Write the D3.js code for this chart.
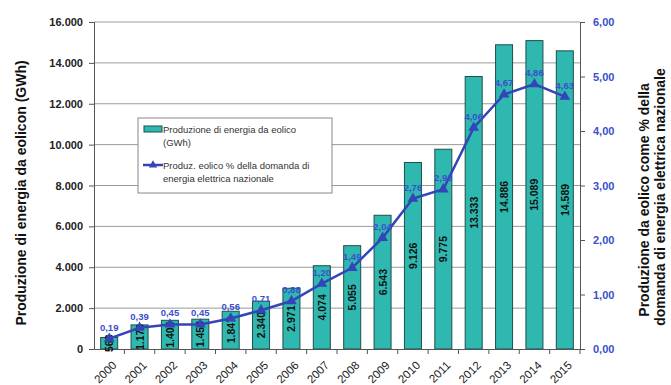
<!doctype html>
<html>
<head>
<style>
  body { margin: 0; background: #fff; font-family: "Liberation Sans", Arial, sans-serif; }
</style>
<script src="https://d3js.org/d3.v7.min.js"></script>
</head>
<body>
<svg width="671" height="385"></svg>
<script>
var years = ["2000","2001","2002","2003","2004","2005","2006","2007","2008","2009","2010","2011","2012","2013","2014","2015"];
var gwh = [563, 1179, 1404, 1458, 1847, 2340, 2971, 4074, 5055, 6543, 9126, 9775, 13333, 14886, 15089, 14589];
var pct = [0.19, 0.39, 0.45, 0.45, 0.56, 0.71, 0.88, 1.20, 1.49, 2.04, 2.76, 2.93, 4.06, 4.67, 4.86, 4.63];
var leftTicks = [0, 2000, 4000, 6000, 8000, 10000, 12000, 14000, 16000];
var rightTicks = [0, 1, 2, 3, 4, 5, 6];

var it = d3.formatLocale({decimal: ",", thousands: ".", grouping: [3], currency: ["", "€"]});
var fmtInt = it.format(",d"), fmtPct = it.format(".2f");

var svg = d3.select("svg");
var pLeft = 94, pRight = 580, pTop = 22, pBottom = 349;
var teal = "#2fb8b0", blue = "#3345b8", blueTxt = "#3a4fcc";

var x = d3.scaleBand().domain(years).range([pLeft, pRight]).paddingInner(0.44).paddingOuter(0.22);
var yL = d3.scaleLinear().domain([0, 16000]).range([pBottom, pTop]);
var yR = d3.scaleLinear().domain([0, 6]).range([pBottom, pTop]);

// gridlines
svg.append("g").selectAll("line").data(leftTicks.slice(1)).enter().append("line")
  .attr("x1", pLeft).attr("x2", pRight)
  .attr("y1", function(d){ return yL(d); }).attr("y2", function(d){ return yL(d); })
  .attr("stroke", "#9a9a9a").attr("stroke-width", 1);

// left axis
var gl = svg.append("g").attr("transform", "translate(" + pLeft + ",0)")
  .call(d3.axisLeft(yL).tickValues(leftTicks).tickFormat(fmtInt).tickSize(5).tickPadding(6));
gl.selectAll("text").attr("font-size", 11).attr("font-weight", "bold").attr("fill", "#222")
  .attr("font-family", "Liberation Sans, Arial, sans-serif");
gl.selectAll("line, path").attr("stroke", "#555");

// right axis
var gr = svg.append("g").attr("transform", "translate(" + pRight + ",0)")
  .call(d3.axisRight(yR).tickValues(rightTicks).tickFormat(fmtPct).tickSize(5).tickPadding(8));
gr.selectAll("text").attr("font-size", 11).attr("font-weight", "bold").attr("fill", blueTxt)
  .attr("font-family", "Liberation Sans, Arial, sans-serif");
gr.selectAll("line, path").attr("stroke", "#555");

// bars
var data = years.map(function(y, i){ return {year: y, v: gwh[i], p: pct[i]}; });
svg.append("g").selectAll("rect").data(data).enter().append("rect")
  .attr("x", function(d){ return x(d.year); })
  .attr("y", function(d){ return yL(d.v); })
  .attr("width", x.bandwidth())
  .attr("height", function(d){ return pBottom - yL(d.v); })
  .attr("fill", teal).attr("stroke", "#1d4f4c").attr("stroke-width", 1);

// x axis
var gx = svg.append("g").attr("transform", "translate(0," + pBottom + ")")
  .call(d3.axisBottom(x).tickSize(5).tickSizeOuter(0));
gx.select("path").attr("stroke", "#555");
gx.selectAll("line").attr("stroke", "#555").attr("transform", "translate(" + (x.step() / 2) + ",0)");
gx.selectAll("text").attr("font-size", 11.5).attr("fill", "#222")
  .attr("font-family", "Liberation Sans, Arial, sans-serif")
  .attr("text-anchor", "end").attr("dy", 0).attr("y", 0)
  .attr("transform", "translate(8,17) rotate(-45)");

// bar value labels
svg.append("g").selectAll("text").data(data).enter().append("text")
  .attr("transform", function(d){
    return "translate(" + (x(d.year) + x.bandwidth() / 2 + 4) + "," + ((yL(d.v) + pBottom) / 2) + ") rotate(-90)";
  })
  .attr("text-anchor", "middle").attr("font-size", 10.5).attr("font-weight", "bold").attr("fill", "#111")
  .text(function(d){ return fmtInt(d.v); });

// line
var cx = function(d){ return x(d.year) + x.bandwidth() / 2; };
svg.append("path").datum(data)
  .attr("d", d3.line().x(cx).y(function(d){ return yR(d.p); }))
  .attr("fill", "none").attr("stroke", blue).attr("stroke-width", 2.5);
svg.append("g").selectAll("path").data(data).enter().append("path")
  .attr("d", d3.symbol().type(d3.symbolTriangle).size(50))
  .attr("transform", function(d){ return "translate(" + cx(d) + "," + yR(d.p) + ")"; })
  .attr("fill", blue);
svg.append("g").selectAll("text").data(data).enter().append("text")
  .attr("x", cx).attr("y", function(d){ return yR(d.p) - 8; })
  .attr("text-anchor", "middle").attr("font-size", 9.5).attr("font-weight", "bold").attr("fill", blueTxt)
  .text(function(d){ return fmtPct(d.p); });

// legend
var lg = svg.append("g");
lg.append("rect").attr("x", 138).attr("y", 118).attr("width", 194).attr("height", 75)
  .attr("fill", "#fff").attr("stroke", "#888");
lg.append("rect").attr("x", 144).attr("y", 126).attr("width", 18).attr("height", 6)
  .attr("fill", teal).attr("stroke", "#1d4f4c");
lg.append("line").attr("x1", 143).attr("x2", 163).attr("y1", 165).attr("y2", 165)
  .attr("stroke", blue).attr("stroke-width", 2.5);
lg.append("path").attr("d", d3.symbol().type(d3.symbolTriangle).size(30))
  .attr("transform", "translate(153,165)").attr("fill", blue);
var legTxt = [["Produzione di energia da eolico", 133], ["(GWh)", 146],
              ["Produz. eolico % della domanda di", 169], ["energia elettrica nazionale", 182]];
lg.selectAll("text.l").data(legTxt).enter().append("text")
  .attr("x", 163).attr("y", function(d){ return d[1]; })
  .attr("font-size", 9.5).attr("fill", "#333").text(function(d){ return d[0]; });

// axis titles
svg.append("text").attr("transform", "translate(26,193) rotate(-90)")
  .attr("text-anchor", "middle").attr("font-size", 14).attr("font-weight", "bold").attr("fill", "#111")
  .text("Produzione di energia da eolicon (GWh)");
svg.append("text").attr("transform", "translate(649,200) rotate(-90)")
  .attr("text-anchor", "middle").attr("font-size", 14).attr("font-weight", "bold").attr("fill", "#111")
  .text("Produzione da eolico come % della");
svg.append("text").attr("transform", "translate(665,197) rotate(-90)")
  .attr("text-anchor", "middle").attr("font-size", 14).attr("font-weight", "bold").attr("fill", "#111")
  .text("domanda di energia elettrica nazionale");
</script>
</body>
</html>
